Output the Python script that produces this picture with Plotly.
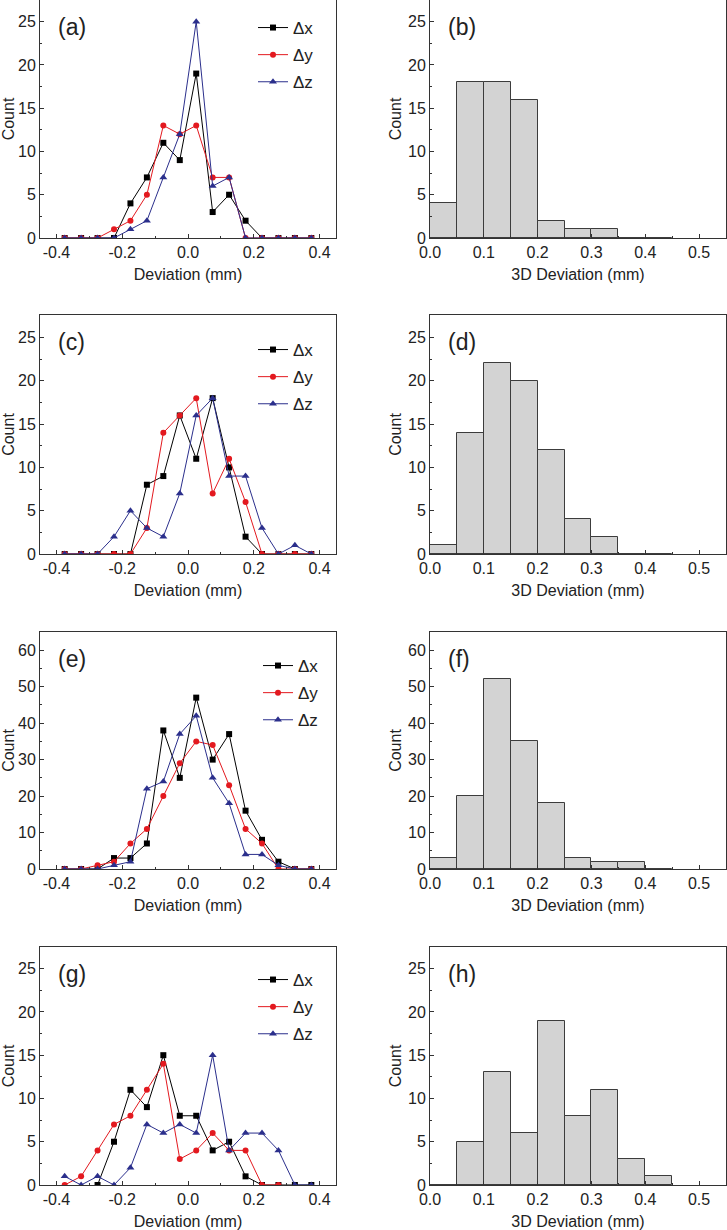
import plotly.graph_objects as go
from plotly.subplots import make_subplots

# bin centres of the per-axis deviation histograms (mm)
dev_x = [-0.375, -0.325, -0.275, -0.225, -0.175, -0.125, -0.075, -0.025,
         0.025, 0.075, 0.125, 0.175, 0.225, 0.275, 0.325, 0.375]

# (a)
a_dx = [0, 0, 0, 0, 4, 7, 11, 9, 19, 3, 5, 2, 0, 0, 0, 0]
a_dy = [0, 0, 0, 1, 2, 5, 13, 12, 13, 7, 7, 0, 0, 0, 0, 0]
a_dz = [0, 0, 0, 0, 1, 2, 7, 12, 25, 6, 7, 0, 0, 0, 0, 0]
# (c)
c_dx = [0, 0, 0, 0, 0, 8, 9, 16, 11, 18, 10, 2, 0, 0, 0, 0]
c_dy = [0, 0, 0, 0, 0, 3, 14, 16, 18, 7, 11, 6, 0, 0, 0, 0]
c_dz = [0, 0, 0, 2, 5, 3, 2, 7, 16, 18, 9, 9, 3, 0, 1, 0]
# (e)
e_dx = [0, 0, 0, 3, 3, 7, 38, 25, 47, 30, 37, 16, 8, 2, 0, 0]
e_dy = [0, 0, 1, 2, 7, 11, 20, 29, 35, 34, 23, 11, 7, 0, 0, 0]
e_dz = [0, 0, 0, 1, 2, 22, 24, 37, 42, 25, 18, 4, 4, 1, 0, 0]
# (g)
g_dx = [None, None, 0, 5, 11, 9, 15, 8, 8, 4, 5, 1, 0, 0, 0, 0]
g_dy = [0, 1, 4, 7, 8, 11, 14, 3, 4, 6, 4, 4, 0, 0, None, None]
g_dz = [1, 0, 1, 0, 2, 7, 6, 7, 6, 15, 4, 6, 6, 4, 0, 0]

# 3D deviation histograms, bins of 0.05 mm starting at 0
bins_3d = [0.025, 0.075, 0.125, 0.175, 0.225, 0.275, 0.325, 0.375, 0.425]
b_cnt = [4, 18, 18, 16, 2, 1, 1, 0, 0]
d_cnt = [1, 14, 22, 20, 12, 4, 2, 0, 0]
f_cnt = [3, 20, 52, 35, 18, 3, 2, 2, 0]
h_cnt = [0, 5, 13, 6, 19, 8, 11, 3, 1]

left_sets = [(a_dx, a_dy, a_dz), (c_dx, c_dy, c_dz), (e_dx, e_dy, e_dz), (g_dx, g_dy, g_dz)]
right_sets = [b_cnt, d_cnt, f_cnt, h_cnt]
labels_left = ['(a)', '(c)', '(e)', '(g)']
labels_right = ['(b)', '(d)', '(f)', '(h)']
ymax = [27.5, 27.6, 65, 27.5]

W, H = 727, 1230
FONT = 'Liberation Sans, Arial, sans-serif'
series = [('\u0394x', '#000000', 'square', 6),
          ('\u0394y', '#e3191f', 'circle', 6),
          ('\u0394z', '#2b2f8c', 'triangle-up', 7)]

# panel positions in pixels (left, right) and (top, bottom)
col_px = [(40, 336), (430, 726)]
row_px = [(0, 238), (315, 554), (632, 869), (947, 1185)]
legend_px = [(253, 10), (253, 332), (258, 648), (253, 962)]

fig = make_subplots(rows=4, cols=2)

for r in range(4):
    lg = 'legend' if r == 0 else 'legend%d' % (r + 1)
    for (name, col, sym, sz), ys in zip(series, left_sets[r]):
        fig.add_trace(go.Scatter(x=dev_x, y=ys, name=name, mode='lines+markers',
                                 line=dict(color=col, width=1),
                                 marker=dict(color=col, symbol=sym, size=sz),
                                 legend=lg, legendgroup=name + str(r)),
                      row=r + 1, col=1)
    fig.add_trace(go.Bar(x=bins_3d, y=right_sets[r], width=0.05,
                         marker=dict(color='#d3d3d3', line=dict(color='#3c3c3c', width=1)),
                         showlegend=False),
                  row=r + 1, col=2)

axis_common = dict(showline=True, mirror=True, linecolor='#333333', linewidth=1,
                   ticks='inside', ticklen=4, tickcolor='#333333', showgrid=False,
                   zeroline=False, automargin=False,
                   tickfont=dict(family=FONT, size=16, color='#222222'),
                   title_font=dict(family=FONT, size=16, color='#222222'))

for r in range(4):
    top, bot = row_px[r]
    ydom = [1 - bot / H, min(1.0, 1 - top / H)]
    for c in range(2):
        xl, xr = col_px[c]
        xdom = [xl / W, xr / W]
        if c == 0:
            fig.update_xaxes(domain=xdom, range=[-0.45, 0.45], tickvals=[-0.4, -0.2, 0.0, 0.2, 0.4],
                             ticktext=['-0.4', '-0.2', '0.0', '0.2', '0.4'],
                             minor=dict(dtick=0.1, tick0=0, ticks='inside', ticklen=2, tickcolor='#333333'),
                             title_text='Deviation (mm)', title_standoff=8,
                             row=r + 1, col=1, **axis_common)
        else:
            fig.update_xaxes(domain=xdom, range=[0, 0.55], dtick=0.1, tick0=0, tickformat='.1f',
                             minor=dict(dtick=0.05, tick0=0, ticks='inside', ticklen=2, tickcolor='#333333'),
                             title_text='3D Deviation (mm)', title_standoff=8,
                             row=r + 1, col=2, **axis_common)
        dt = 10 if ymax[r] > 40 else 5
        fig.update_yaxes(domain=ydom, range=[0, ymax[r]], dtick=dt, tick0=0,
                         minor=dict(dtick=dt / 2, tick0=0, ticks='inside', ticklen=2, tickcolor='#333333'),
                         title_text='Count', title_standoff=2,
                         row=r + 1, col=c + 1, **axis_common)

# panel letters
annotations = []
for r in range(4):
    for c, labs in enumerate([labels_left, labels_right]):
        n = r * 2 + c + 1
        xa = 'x' if n == 1 else 'x%d' % n
        ya = 'y' if n == 1 else 'y%d' % n
        annotations.append(dict(text=labs[r], xref=xa + ' domain', yref=ya + ' domain',
                                x=0.055, y=0.885, xanchor='left', yanchor='middle',
                                showarrow=False,
                                font=dict(family=FONT, size=23, color='#222222')))

legends = {}
for r in range(4):
    lx, ly = legend_px[r]
    key = 'legend' if r == 0 else 'legend%d' % (r + 1)
    legends[key] = dict(x=lx / W, y=1 - ly / H, xanchor='left', yanchor='top',
                        bgcolor='rgba(0,0,0,0)', tracegroupgap=2,
                        font=dict(family=FONT, size=17, color='#222222'))

fig.update_layout(width=W, height=H, margin=dict(l=0, r=0, t=0, b=0),
                  plot_bgcolor='white', paper_bgcolor='white', bargap=0,
                  annotations=annotations, **legends)

# drop the page's default body margin so the figure sits at the window corner
fig.write_html('out.html', config={'displayModeBar': False},
               post_script="document.body.style.margin='0';")
